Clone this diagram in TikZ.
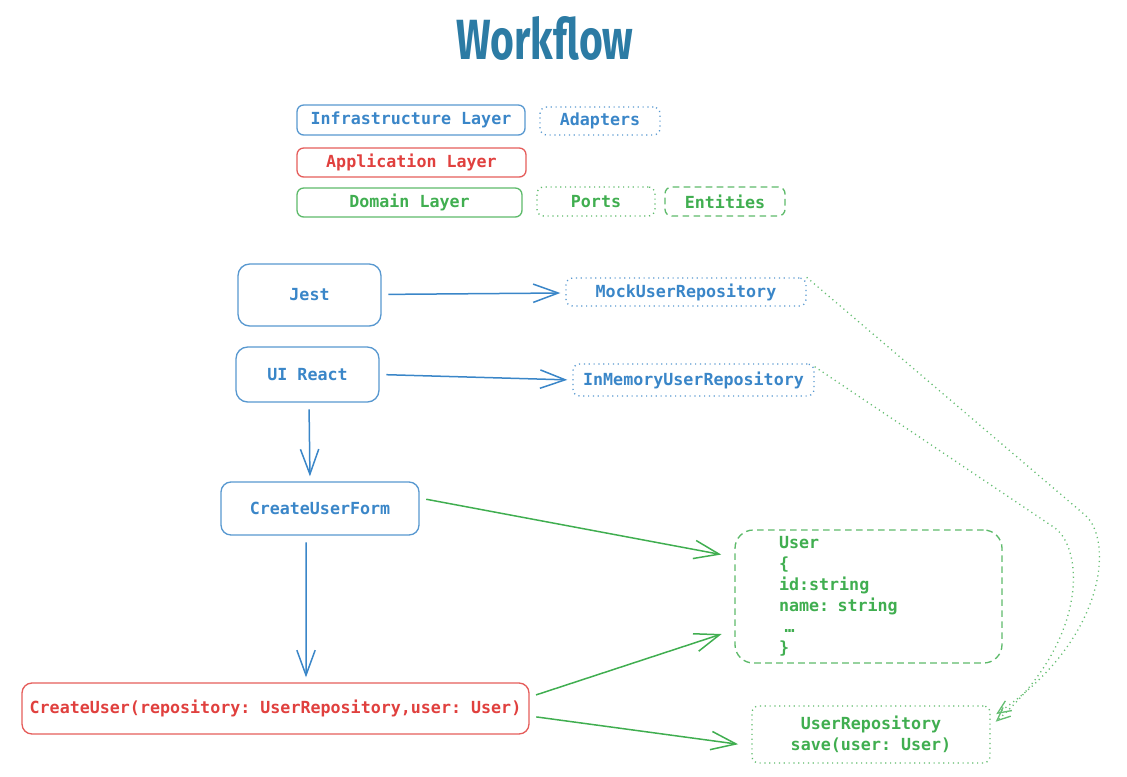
\documentclass[tikz,border=0pt]{standalone}
\usepackage{fontspec}
\usepackage{graphicx}
\setmonofont{DejaVu Sans Mono}
\newfontfamily\titlefont{Fira Sans}
\usetikzlibrary{arrows.meta}

\definecolor{lblue}{HTML}{3A86C8}
\definecolor{lred}{HTML}{E0403E}
\definecolor{lgreen}{HTML}{40AE50}
\definecolor{ltitle}{HTML}{2C7BA4}

\begin{document}
\begin{tikzpicture}[x=0.6pt,y=-0.6pt,
  box/.style={draw,rounded corners=4pt,line width=0.8pt,inner sep=0pt,
    font=\ttfamily\bfseries\fontsize{10}{12.6}\selectfont},
  blubox/.style={box,draw=lblue!85,text=lblue},
  redbox/.style={box,draw=lred!85,text=lred},
  grnbox/.style={box,draw=lgreen!85,text=lgreen},
  dots/.style={dash pattern=on 0.7pt off 2.2pt},
  dashes/.style={dash pattern=on 4pt off 2.6pt},
  barb/.style={-{Straight Barb[length=15pt,width=11pt]}},
  blarrow/.style={barb,draw=lblue,line width=0.9pt,shorten <=4pt,shorten >=3pt},
  grarrow/.style={barb,draw=lgreen,line width=0.9pt,shorten <=4pt,shorten >=8pt},
  grdots/.style={draw=lgreen!80,line width=0.8pt,dots,
    -{Straight Barb[length=8pt,width=7pt]},shorten >=4pt}]
  \useasboundingbox (0,0) rectangle (1127,776);

  \node[text=ltitle] (title) at (545,38)
    {\titlefont\bfseries\fontsize{34}{34}\selectfont\scalebox{0.72}[1]{Workflow}};

  \node[blubox,minimum width=136.8pt,minimum height=18pt] (infra) at (411,120) {Infrastructure Layer};
  \node[blubox,dots,minimum width=72pt,minimum height=16.8pt] (adapters) at (600,121) {Adapters};
  \node[redbox,minimum width=137.4pt,minimum height=17.4pt] (applayer) at (411.5,162.5) {Application Layer};
  \node[grnbox,minimum width=135pt,minimum height=17.4pt] (domain) at (409.5,202.5) {Domain Layer};
  \node[grnbox,dots,minimum width=70.8pt,minimum height=17.4pt] (ports) at (596,201.5) {Ports};
  \node[grnbox,dashes,minimum width=72pt,minimum height=17.4pt] (entities) at (725,201.5) {Entities};

  \node[blubox,rounded corners=7pt,minimum width=85.8pt,minimum height=37.2pt] (jest) at (309.5,295) {Jest};
  \node[blubox,dots,minimum width=144pt,minimum height=16.8pt] (mock) at (686,292) {MockUserRepository};
  \node[blubox,rounded corners=7pt,minimum width=85.8pt,minimum height=33pt] (uireact) at (307.5,374.5) {UI React};
  \node[blubox,dots,minimum width=144.6pt,minimum height=19.2pt] (inmem) at (693.5,380) {InMemoryUserRepository};
  \node[blubox,rounded corners=6pt,minimum width=118.8pt,minimum height=31.8pt] (form) at (320,508.5) {CreateUserForm};
  \node[redbox,rounded corners=6pt,minimum width=304.2pt,minimum height=30.6pt] (createuser) at (275.5,708.5)
    {CreateUser(repository: UserRepository,user: User)};
  \node[grnbox,dashes,rounded corners=11pt,align=left,text width=107.4pt,inner xsep=26.4pt,
    minimum height=79.8pt] (user) at (868.5,596.5)
    {User\\\{\\id:string\\name: string\\\ …\\\}};
  \node[grnbox,dots,align=center,minimum width=142.8pt,minimum height=34.2pt] (userrepo) at (871,734.5)
    {UserRepository\\save(user: User)};

  \draw[blarrow] (jest) -- (mock);
  \draw[blarrow] (uireact.east) -- (inmem.west);
  \draw[blarrow] ([xshift=0.9pt]uireact.south) -- ([xshift=-6pt]form.north);
  \draw[blarrow] ([xshift=-8.4pt]form.south) -- ([xshift=18.3pt]createuser.north);

  \draw[grarrow] ([yshift=6.3pt]form.east) -- ([yshift=23.7pt]user.west);
  \draw[grarrow] ([yshift=6.9pt]createuser.east) -- ([yshift=-20pt]user.west);
  \draw[grarrow] ([yshift=-4.5pt]createuser.east) -- ([yshift=-6.9pt]userrepo.west);

  \draw[grdots] (mock.north east) -- (1085,515)
    .. controls (1114,540) and (1106,640) .. ([yshift=10pt]userrepo.east);
  \draw[grdots] ([yshift=-2pt]inmem.north east) -- (1055,528)
    .. controls (1084,550) and (1088,640) .. ([yshift=5pt]userrepo.east);
\end{tikzpicture}
\end{document}
